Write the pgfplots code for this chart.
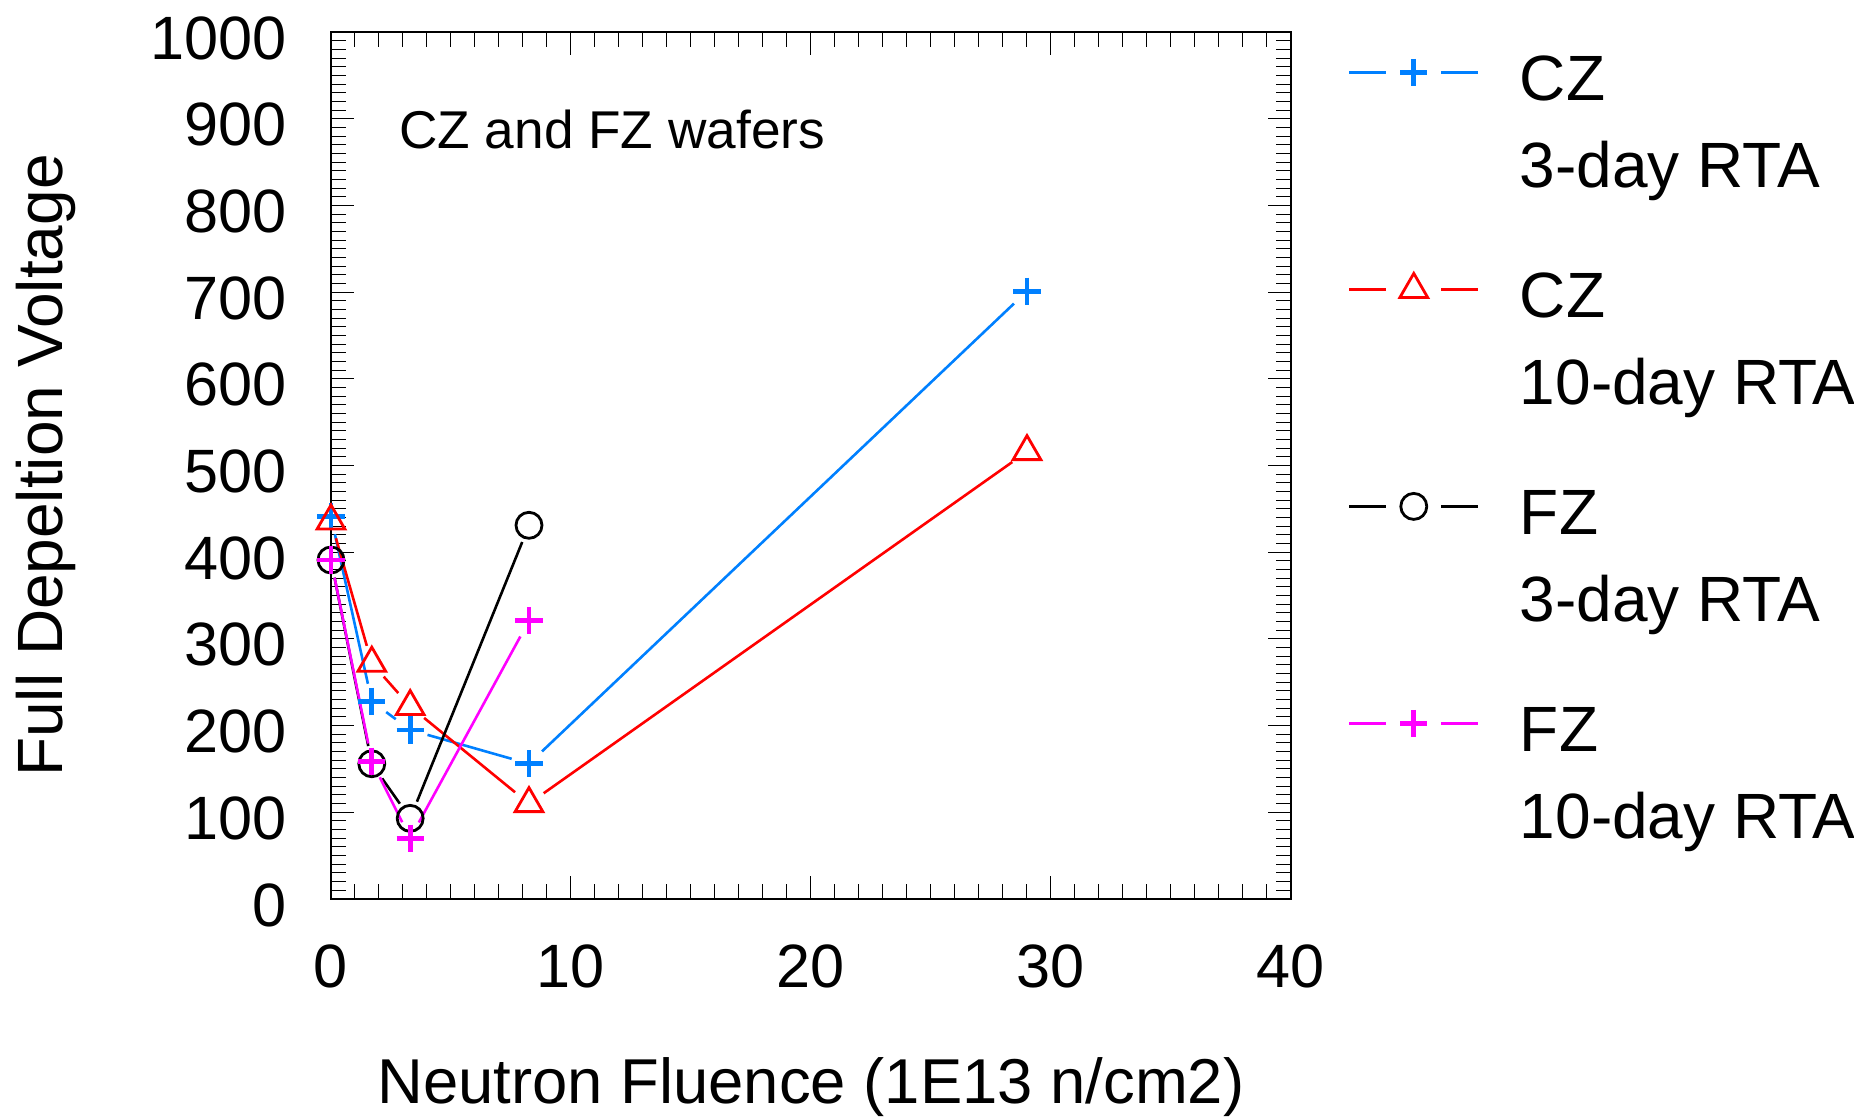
\documentclass[border=0pt]{standalone}
\usepackage{fontspec}
\setmainfont{Liberation Sans}
\usepackage{pgfplots}
\pgfplotsset{compat=1.18}
\definecolor{czblue}{RGB}{0,128,255}
\definecolor{fzmag}{RGB}{255,0,255}
\newcommand\lgtext[2]{\raisebox{0pt}[107pt][0pt]{\vtop{\baselineskip=43.2pt\hbox{#1}\hbox{#2}}}}
\pgfplotsset{
  seg/.style={forget plot, no markers, line width=1.3pt, shorten <=9pt, shorten >=9pt},
}
\begin{document}
\begin{tikzpicture}
\begin{axis}[
  scale only axis, width=480pt, height=433.5pt,
  xmin=0, xmax=40, ymin=0, ymax=1000,
  xtick={0,10,20,30,40}, minor x tick num=9,
  ytick={0,100,...,1000}, minor y tick num=9,
  xtick pos=both, ytick pos=both,
  xticklabel pos=lower, yticklabel pos=left,
  tick align=inside,
  major tick length=11.6pt, minor tick length=7.6pt,
  tick style={line width=0.5pt, black},
  axis line style={line width=0.8pt},
  /pgf/number format/assume math mode=true,
  /pgf/number format/1000 sep={},
  tick label style={font=\fontsize{30.6}{36}\selectfont, inner sep=0pt},
  xticklabel style={anchor=north, yshift=-22.5pt},
  yticklabel style={anchor=east, xshift=-21.8pt, yshift=-3pt},
  xlabel={Neutron Fluence (1E13 n/cm2)},
  ylabel={Full Depeltion Voltage},
  xlabel style={at={(axis description cs:0.5,-0.2353)}, anchor=base, inner sep=0pt, font=\fontsize{31.7}{38}\selectfont},
  ylabel style={at={(axis description cs:-0.27917,0.5)}, anchor=base, inner sep=0pt, font=\fontsize{32}{38}\selectfont},
  clip=false,
  legend style={at={(axis description cs:1.059375,1.16747)}, anchor=north west,
    draw=none, fill=none, inner sep=0pt, outer sep=0pt, row sep=0pt, column sep=0pt,
    nodes={inner sep=0pt, font=\fontsize{32}{38}\selectfont}},
  legend cell align=left,
  legend image code/.code={
    \draw[line width=1.3pt] (0pt,-38.55pt) -- (18.5pt,-38.55pt);
    \draw[line width=1.3pt] (46pt,-38.55pt) -- (64.5pt,-38.55pt);
    \draw plot coordinates {(32.25pt,-38.55pt)};
    \path (85.1pt,-38.55pt);
  },
]
% CZ 3-day RTA
\addplot[seg, czblue] coordinates {(0,441) (1.7,228)};
\addplot[seg, czblue] coordinates {(1.7,228) (3.3,195)};
\addplot[seg, czblue] coordinates {(3.3,195) (8.25,156)};
\addplot[seg, czblue] coordinates {(8.25,156) (29,701)};
\addplot[only marks, color=czblue, mark=+, mark size=6.8pt, mark options={line width=2.4pt}]
  coordinates {(0,441) (1.7,228) (3.3,195) (8.25,156) (29,701)};
\addlegendentry{\lgtext{CZ}{3-day RTA}}
% CZ 10-day RTA
\addplot[seg, red] coordinates {(0,436) (1.7,272)};
\addplot[seg, red] coordinates {(1.7,272) (3.3,222)};
\addplot[seg, red] coordinates {(3.3,222) (8.25,110)};
\addplot[seg, red] coordinates {(8.25,110) (29,516)};
\addplot[only marks, color=red, mark=triangle, mark size=8pt, mark options={line width=1.4pt}]
  coordinates {(0,436) (1.7,272) (3.3,222) (8.25,110) (29,516)};
\addlegendentry{\lgtext{CZ}{10-day RTA}}
% FZ 3-day RTA
\addplot[seg, black] coordinates {(0,391) (1.7,156)};
\addplot[seg, black] coordinates {(1.7,156) (3.3,93)};
\addplot[seg, black] coordinates {(3.3,93) (8.25,431)};
\addplot[only marks, color=black, mark=o, mark size=6.5pt, mark options={line width=1.4pt}]
  coordinates {(0,391) (1.7,156) (3.3,93) (8.25,431)};
\addlegendentry{\lgtext{FZ}{3-day RTA}}
% FZ 10-day RTA
\addplot[seg, fzmag] coordinates {(0,391) (1.7,159)};
\addplot[seg, fzmag] coordinates {(1.7,159) (3.3,70)};
\addplot[seg, fzmag] coordinates {(3.3,70) (8.25,321)};
\addplot[only marks, color=fzmag, mark=+, mark size=6.8pt, mark options={line width=2.4pt}]
  coordinates {(0,391) (1.7,159) (3.3,70) (8.25,321)};
\addlegendentry{\lgtext{FZ}{10-day RTA}}
\node[anchor=base west, inner sep=0pt, font=\fontsize{26.6}{32}\selectfont] at (axis cs:2.83,866) {CZ and FZ wafers};
\end{axis}
\pgfresetboundingbox
\useasboundingbox (-165.5pt,-110pt) rectangle (761.5pt,449.5pt);
\end{tikzpicture}
\end{document}
